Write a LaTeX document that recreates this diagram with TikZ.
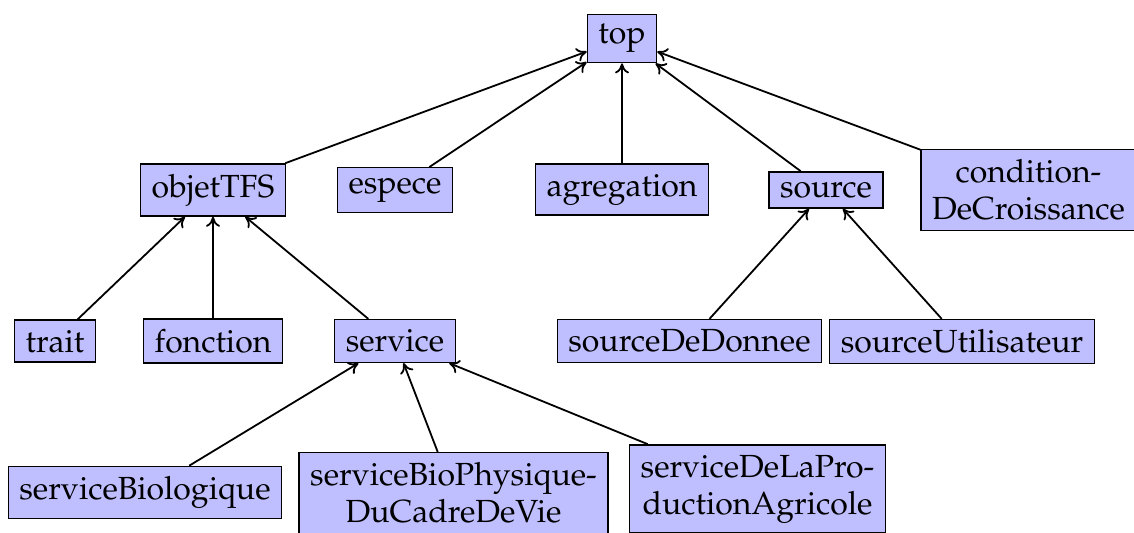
\documentclass[tikz,border=0pt]{standalone}
\usepackage[T1]{fontenc}
\usepackage{mathpazo}
\usetikzlibrary{arrows.meta}

\tikzset{
  cls/.style={draw, line width=0.7pt, fill=blue!25, inner xsep=5.5pt,
    inner ysep=5pt, align=center, font=\fontsize{16}{18.5}\selectfont},
  isa/.style={-{To[length=5pt,width=7pt]}, line width=0.9pt}
}

\begin{document}
\begin{tikzpicture}[x=0.5pt, y=-0.5pt]

\useasboundingbox (0,0) rectangle (1134,533);

% Root
\node[cls] (top) at (622,38.5) {top};

% First level
\node[cls] (objetTFS)   at (213,190)    {objetTFS};
\node[cls] (espece)     at (395,190)    {espece};
\node[cls] (agregation) at (622,189.5)  {agregation};
\node[cls] (source)     at (826,190)    {source};
\node[cls] (condition)  at (1028.5,190) {condition-\\DeCroissance};

% Second level
\node[cls] (trait)        at (55,341)    {trait};
\node[cls] (fonction)     at (213,341)   {fonction};
\node[cls] (service)      at (395,341)   {service};
\node[cls] (sourceDonnee) at (689.5,341) {sourceDeDonnee};
\node[cls] (sourceUtil)   at (962,341.5) {sourceUtilisateur};

% Third level
\node[cls] (serviceBio)   at (145,492.5) {serviceBiologique};
\node[cls] (serviceCadre) at (453.5,493) {serviceBioPhysique-\\DuCadreDeVie};
\node[cls] (serviceProd)  at (757.5,489) {serviceDeLaPro-\\ductionAgricole};

% Links to top
\draw[isa] (objetTFS) -- (top);
\draw[isa] (espece) -- (top);
\draw[isa] (agregation) -- (top);
\draw[isa] (source) -- (top);
\draw[isa] (condition) -- (top);

% Links to objetTFS
\draw[isa] (trait) -- (objetTFS);
\draw[isa] (fonction) -- (objetTFS);
\draw[isa] (service) -- (objetTFS);

% Links to source
\draw[isa] (sourceDonnee) -- (source);
\draw[isa] (sourceUtil) -- (source);

% Links to service
\draw[isa] (serviceBio) -- (service);
\draw[isa] (serviceCadre) -- (service);
\draw[isa] (serviceProd) -- (service);

\end{tikzpicture}
\end{document}
